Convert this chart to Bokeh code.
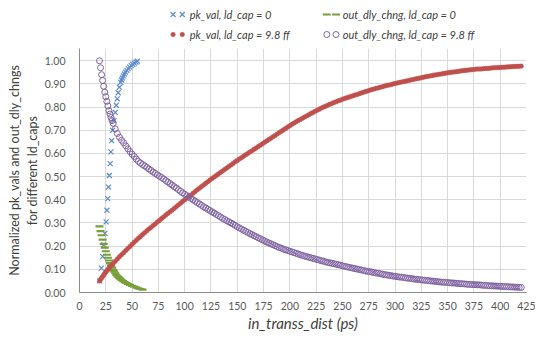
from bokeh.plotting import figure
from bokeh.models import Range1d, FixedTicker, NumeralTickFormatter
from bokeh.layouts import column
from bokeh.embed import file_html
from bokeh.resources import INLINE
from bokeh.core.properties import value

FONT = "Lato"

# ---------------- data ----------------
series_names = ["pk_val, ld_cap = 0", "out_dly_chng, ld_cap = 0",
                "pk_val, ld_cap = 9.8 ff", "out_dly_chng, ld_cap = 9.8 ff"]

x_ticks = [0, 25, 50, 75, 100, 125, 150, 175, 200, 225, 250, 275, 300,
           325, 350, 375, 400, 425]
y_ticks = [0.0, 0.1, 0.2, 0.3, 0.4, 0.5, 0.6, 0.7, 0.8, 0.9, 1.0]

# pk_val, ld_cap = 0
pk0_x = [19.3, 20.8, 22.0, 23.0, 24.2, 25.3, 26.1, 26.9, 27.6, 28.4,
         29.2, 29.9, 30.6, 31.5, 32.8, 34.0, 35.0, 35.9, 36.8, 37.9,
         39.2, 40.0, 40.8, 41.7, 42.7, 43.8, 45.0, 46.3, 47.7, 49.2,
         50.7, 52.2, 53.7, 55.0]
pk0_y = [0.050, 0.105, 0.155, 0.205, 0.255, 0.305, 0.355, 0.405, 0.455, 0.505,
         0.556, 0.607, 0.655, 0.700, 0.742, 0.777, 0.808, 0.836, 0.862, 0.886,
         0.907, 0.917, 0.926, 0.935, 0.943, 0.951, 0.959, 0.966, 0.973, 0.979,
         0.985, 0.990, 0.994, 0.998]

# out_dly_chng, ld_cap = 0
dly0_x = [19, 20, 21, 22, 23, 24, 25, 26, 27, 28, 29, 30, 31, 32, 33, 34, 35,
          36, 37, 38, 39, 40, 41.5, 43, 44.5, 46, 48, 50, 52, 54, 56, 58, 60]
dly0_y = [0.285, 0.265, 0.247, 0.228, 0.210, 0.194, 0.178, 0.163, 0.150, 0.138,
          0.127, 0.117, 0.107, 0.098, 0.090, 0.083, 0.076, 0.071, 0.066, 0.062,
          0.058, 0.054, 0.049, 0.045, 0.041, 0.037, 0.033, 0.029, 0.025, 0.021,
          0.018, 0.015, 0.012]

# ld_cap = 9.8 ff series share the in_transs_dist values
cap_x = [19, 20, 21, 22, 23, 24, 25, 26, 27, 28, 29, 30, 31,
         32, 34, 36, 38, 40, 42, 44, 46, 48, 50,
         52, 54, 56, 58, 60, 62, 64, 66, 68, 70,
         72, 74, 76, 78, 80, 82, 84, 86, 88, 90,
         92, 94, 96, 98, 100, 102, 104, 106, 108, 110,
         112, 114, 116, 118, 120, 122, 124, 126, 128, 130,
         132, 134, 136, 138, 140, 142, 144, 146, 148, 150,
         152, 154, 156, 158, 160, 162, 164, 166, 168, 170,
         172, 174, 176, 178, 180, 182, 184, 186, 188, 190,
         192, 194, 196, 198, 200, 202, 204, 206, 208, 210,
         212, 214, 216, 218, 220, 222, 224, 226, 228, 230,
         232, 234, 236, 238, 240, 242, 244, 246, 248, 250,
         252, 254, 256, 258, 260, 262, 264, 266, 268, 270,
         272, 274, 276, 278, 280, 282, 284, 286, 288, 290,
         292, 294, 296, 298, 300, 302, 304, 306, 308, 310,
         312, 314, 316, 318, 320, 322, 324, 326, 328, 330,
         332, 334, 336, 338, 340, 342, 344, 346, 348, 350,
         352, 354, 356, 358, 360, 362, 364, 366, 368, 370,
         372, 374, 376, 378, 380, 382, 384, 386, 388, 390,
         392, 394, 396, 398, 400, 402, 404, 406, 408, 410,
         412, 414, 416, 418, 420]
pk98_y = [0.050, 0.056, 0.063, 0.069, 0.076, 0.082, 0.088, 0.094, 0.099, 0.105,
          0.110, 0.115, 0.120,
          0.125, 0.135, 0.145, 0.154, 0.163, 0.172, 0.181, 0.190, 0.199, 0.208,
          0.217, 0.226, 0.234, 0.242, 0.250, 0.258, 0.266, 0.274, 0.281, 0.289,
          0.296, 0.304, 0.311, 0.319, 0.326, 0.334, 0.341, 0.348, 0.355, 0.363,
          0.370, 0.378, 0.385, 0.393, 0.400, 0.407, 0.414, 0.421, 0.428, 0.436,
          0.443, 0.450, 0.457, 0.464, 0.471, 0.478, 0.485, 0.492, 0.498, 0.505,
          0.511, 0.518, 0.524, 0.531, 0.537, 0.544, 0.550, 0.557, 0.564, 0.570,
          0.576, 0.582, 0.588, 0.594, 0.600, 0.606, 0.612, 0.618, 0.624, 0.630,
          0.636, 0.642, 0.648, 0.654, 0.660, 0.666, 0.672, 0.678, 0.684, 0.690,
          0.696, 0.702, 0.708, 0.714, 0.720, 0.726, 0.731, 0.737, 0.742, 0.747,
          0.752, 0.757, 0.762, 0.767, 0.772, 0.777, 0.782, 0.787, 0.791, 0.796,
          0.800, 0.804, 0.808, 0.812, 0.816, 0.820, 0.823, 0.827, 0.830, 0.834,
          0.837, 0.840, 0.843, 0.846, 0.849, 0.852, 0.855, 0.858, 0.861, 0.864,
          0.867, 0.870, 0.873, 0.876, 0.878, 0.881, 0.883, 0.886, 0.888, 0.891,
          0.893, 0.895, 0.897, 0.900, 0.902, 0.904, 0.906, 0.908, 0.910, 0.912,
          0.914, 0.916, 0.918, 0.920, 0.922, 0.924, 0.926, 0.928, 0.930, 0.932,
          0.933, 0.935, 0.937, 0.939, 0.940, 0.942, 0.943, 0.945, 0.946, 0.948,
          0.949, 0.951, 0.952, 0.953, 0.954, 0.956, 0.957, 0.958, 0.959, 0.960,
          0.961, 0.962, 0.963, 0.964, 0.964, 0.965, 0.966, 0.967, 0.967, 0.968,
          0.969, 0.970, 0.970, 0.971, 0.971, 0.972, 0.972, 0.973, 0.974, 0.974,
          0.975, 0.975, 0.976, 0.976, 0.977]
dly98_y = [1.000, 0.970, 0.940, 0.915, 0.890, 0.865, 0.845, 0.825, 0.805, 0.785,
           0.770, 0.755, 0.742,
           0.730, 0.706, 0.686, 0.670, 0.657, 0.646, 0.633, 0.620, 0.608, 0.597,
           0.587, 0.576, 0.566, 0.559, 0.552, 0.546, 0.540, 0.533, 0.527, 0.520,
           0.514, 0.508, 0.502, 0.496, 0.490, 0.483, 0.477, 0.470, 0.464, 0.457,
           0.451, 0.444, 0.437, 0.430, 0.424, 0.418, 0.412, 0.406, 0.400, 0.394,
           0.388, 0.382, 0.376, 0.370, 0.365, 0.359, 0.354, 0.348, 0.343, 0.337,
           0.332, 0.326, 0.320, 0.315, 0.310, 0.305, 0.300, 0.295, 0.290, 0.284,
           0.279, 0.274, 0.269, 0.264, 0.259, 0.254, 0.250, 0.245, 0.241, 0.236,
           0.232, 0.227, 0.223, 0.218, 0.214, 0.210, 0.206, 0.202, 0.198, 0.194,
           0.191, 0.187, 0.184, 0.181, 0.178, 0.175, 0.172, 0.169, 0.166, 0.163,
           0.160, 0.157, 0.155, 0.152, 0.150, 0.147, 0.145, 0.142, 0.140, 0.137,
           0.135, 0.132, 0.130, 0.128, 0.126, 0.124, 0.122, 0.120, 0.118, 0.115,
           0.113, 0.111, 0.109, 0.107, 0.105, 0.103, 0.101, 0.099, 0.097, 0.095,
           0.093, 0.091, 0.090, 0.088, 0.086, 0.084, 0.083, 0.081, 0.079, 0.077,
           0.076, 0.074, 0.073, 0.071, 0.070, 0.068, 0.067, 0.066, 0.065, 0.063,
           0.062, 0.061, 0.060, 0.058, 0.057, 0.056, 0.055, 0.054, 0.053, 0.052,
           0.051, 0.050, 0.049, 0.048, 0.047, 0.046, 0.045, 0.044, 0.044, 0.043,
           0.042, 0.041, 0.041, 0.040, 0.039, 0.038, 0.038, 0.037, 0.036, 0.035,
           0.035, 0.034, 0.034, 0.033, 0.033, 0.032, 0.031, 0.031, 0.030, 0.029,
           0.029, 0.028, 0.028, 0.027, 0.027, 0.026, 0.026, 0.025, 0.025, 0.024,
           0.024, 0.023, 0.023, 0.022, 0.022]

# ---------------- styles ----------------
BLUE = "#5B8BD0"
GREEN = "#77A03C"
RED = "#C0504D"
PURPLE = "#8064A2"
TXT = "#404040"
TICK = "#595959"

W = 535
LEG_H = 48
MAIN_H = 295

# ---------------- legend strip ----------------
leg = figure(width=W, height=LEG_H, output_backend="svg", toolbar_location=None,
             x_range=Range1d(0, W), y_range=Range1d(LEG_H, 0),
             x_axis_location=None, y_axis_location=None,
             min_border=0, outline_line_color=None)
leg.grid.visible = False

r1, r2 = 14, 34
c1m, c2m = [112, 123], [296, 307]
leg.scatter(c1m, [r1, r1], marker="x", size=7, line_color=BLUE, line_width=1.2)
leg.scatter(c2m, [r1, r1], marker="dash", size=8, line_color=GREEN, line_width=2.2)
leg.scatter(c1m, [r2, r2], marker="circle", size=4.5, line_color=RED,
            fill_color=RED, line_width=0.5)
leg.scatter(c2m, [r2, r2], marker="circle", size=6, line_color=PURPLE,
            fill_color=None, line_width=1.0)
leg.text(x=[132, 315, 132, 315], y=[r1, r1, r2, r2], text=series_names,
         text_font=value(FONT), text_font_size="11px", text_font_style="italic",
         text_baseline="middle", text_align="left", text_color=TXT)

# ---------------- main plot ----------------
p = figure(width=W, height=MAIN_H, output_backend="svg", toolbar_location=None,
           x_range=Range1d(0, 425), y_range=Range1d(0, 1.053),
           min_border_left=79, min_border_right=9, min_border_top=0,
           min_border_bottom=51, outline_line_color=None)

p.scatter(pk0_x, pk0_y, marker="x", size=7, line_color=BLUE, line_width=1.2)
p.scatter(dly0_x, dly0_y, marker="dash", size=8, line_color=GREEN, line_width=2.2)
p.scatter(cap_x, pk98_y, marker="circle", size=4.5, line_color=RED,
          fill_color=RED, line_width=0.5)
p.scatter(cap_x, dly98_y, marker="circle", size=6, line_color=PURPLE,
          fill_color=None, line_width=1.0)

p.xaxis.ticker = FixedTicker(ticks=x_ticks)
p.yaxis.ticker = FixedTicker(ticks=y_ticks)
p.yaxis.formatter = NumeralTickFormatter(format="0.00")
p.grid.grid_line_color = "#D9D9D9"
p.grid.grid_line_width = 1

p.axis.major_tick_out = 0
p.axis.major_tick_in = 0
p.axis.minor_tick_out = 0
p.axis.minor_tick_in = 0
p.axis.axis_line_color = "#8C8C8C"
p.axis.major_label_text_color = TICK
p.axis.major_label_text_font = FONT
p.axis.major_label_text_font_size = "10.5px"
p.yaxis.major_label_standoff = 14
p.xaxis.major_label_standoff = 9

p.xaxis.axis_label = "in_transs_dist (ps)"
p.xaxis.axis_label_text_font_style = "italic"
p.xaxis.axis_label_text_font_size = "15px"
p.xaxis.axis_label_standoff = 1
p.yaxis.axis_label = "Normalized pk_vals and out_dly_chngs\nfor different ld_caps"
p.yaxis.axis_label_text_font_style = "normal"
p.yaxis.axis_label_text_font_size = "12.5px"
p.yaxis.axis_label_standoff = 2
p.axis.axis_label_text_font = FONT
p.axis.axis_label_text_color = TXT

layout = column(leg, p, spacing=0)
open("out.html", "w").write(file_html(layout, INLINE))
